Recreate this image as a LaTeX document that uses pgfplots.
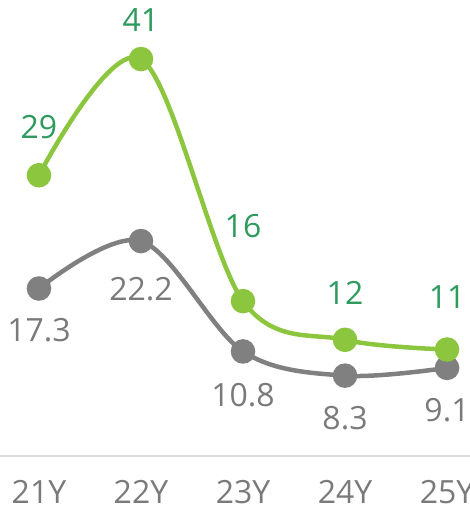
\documentclass[border=0pt]{standalone}
\usepackage{pgfplots}
\usepackage{pgfplotstable}
\pgfplotsset{compat=1.18}
\usepackage{fontspec}
\setmainfont{Open Sans}

\definecolor{limegreen}{HTML}{8CC63F}
\definecolor{labelgreen}{HTML}{2E9A5E}
\definecolor{linegrey}{HTML}{808080}
\definecolor{textgrey}{HTML}{7A7A7A}
\definecolor{axisgrey}{HTML}{DCDCDC}

% x index, value, vertical offset of the value label (pt)
\pgfplotstableread{
x y dy
0 29 48
1 41 39
2 16 75
3 12 47
4 11 52
}\greendata

\pgfplotstableread{
x y dy
0 17.3 -42
1 22.2 -48
2 10.8 -44
3 8.3 -42
4 9.1 -42
}\greydata

\newcommand{\bigfont}{\fontsize{32}{38}\selectfont}

\begin{document}
\begin{tikzpicture}
\begin{axis}[
  at={(0,0)}, anchor=south west,
  scale only axis,
  width=470pt, height=456pt,
  xmin=-0.382, xmax=4.225,
  ymin=0, ymax=47.1,
  axis y line=none,
  axis x line*=bottom,
  x axis line style={-, draw=axisgrey, line width=1.5pt},
  xtick={0,1,2,3,4},
  xticklabels={21Y,22Y,23Y,24Y,25Y},
  major tick length=0pt,
  xticklabel style={anchor=base, yshift=-47pt, inner sep=0pt, text=textgrey, font=\bigfont},
  clip=false,
  /pgf/number format/assume math mode=true,
]
\addplot[color=linegrey, line width=4.5pt, smooth, tension=0.55,
  mark=*, mark size=10pt, mark options={draw=none, fill=linegrey},
  visualization depends on={\thisrow{dy} \as \dy},
  point meta=y,
  nodes near coords,
  nodes near coords style={anchor=center, yshift=\dy pt, inner sep=0pt, text=textgrey, font=\bigfont,
    /pgf/number format/fixed, /pgf/number format/precision=1},
] table[x=x, y=y] {\greydata};

\addplot[color=limegreen, line width=4.5pt, smooth, tension=0.55,
  mark=*, mark size=10pt, mark options={draw=none, fill=limegreen},
  visualization depends on={\thisrow{dy} \as \dy},
  point meta=y,
  nodes near coords,
  nodes near coords style={anchor=center, yshift=\dy pt, inner sep=0pt, text=labelgreen, font=\bigfont},
] table[x=x, y=y] {\greendata};
\end{axis}
\pgfresetboundingbox
\path[use as bounding box] (0,-53pt) rectangle (470pt,456pt);
\end{tikzpicture}
\end{document}
